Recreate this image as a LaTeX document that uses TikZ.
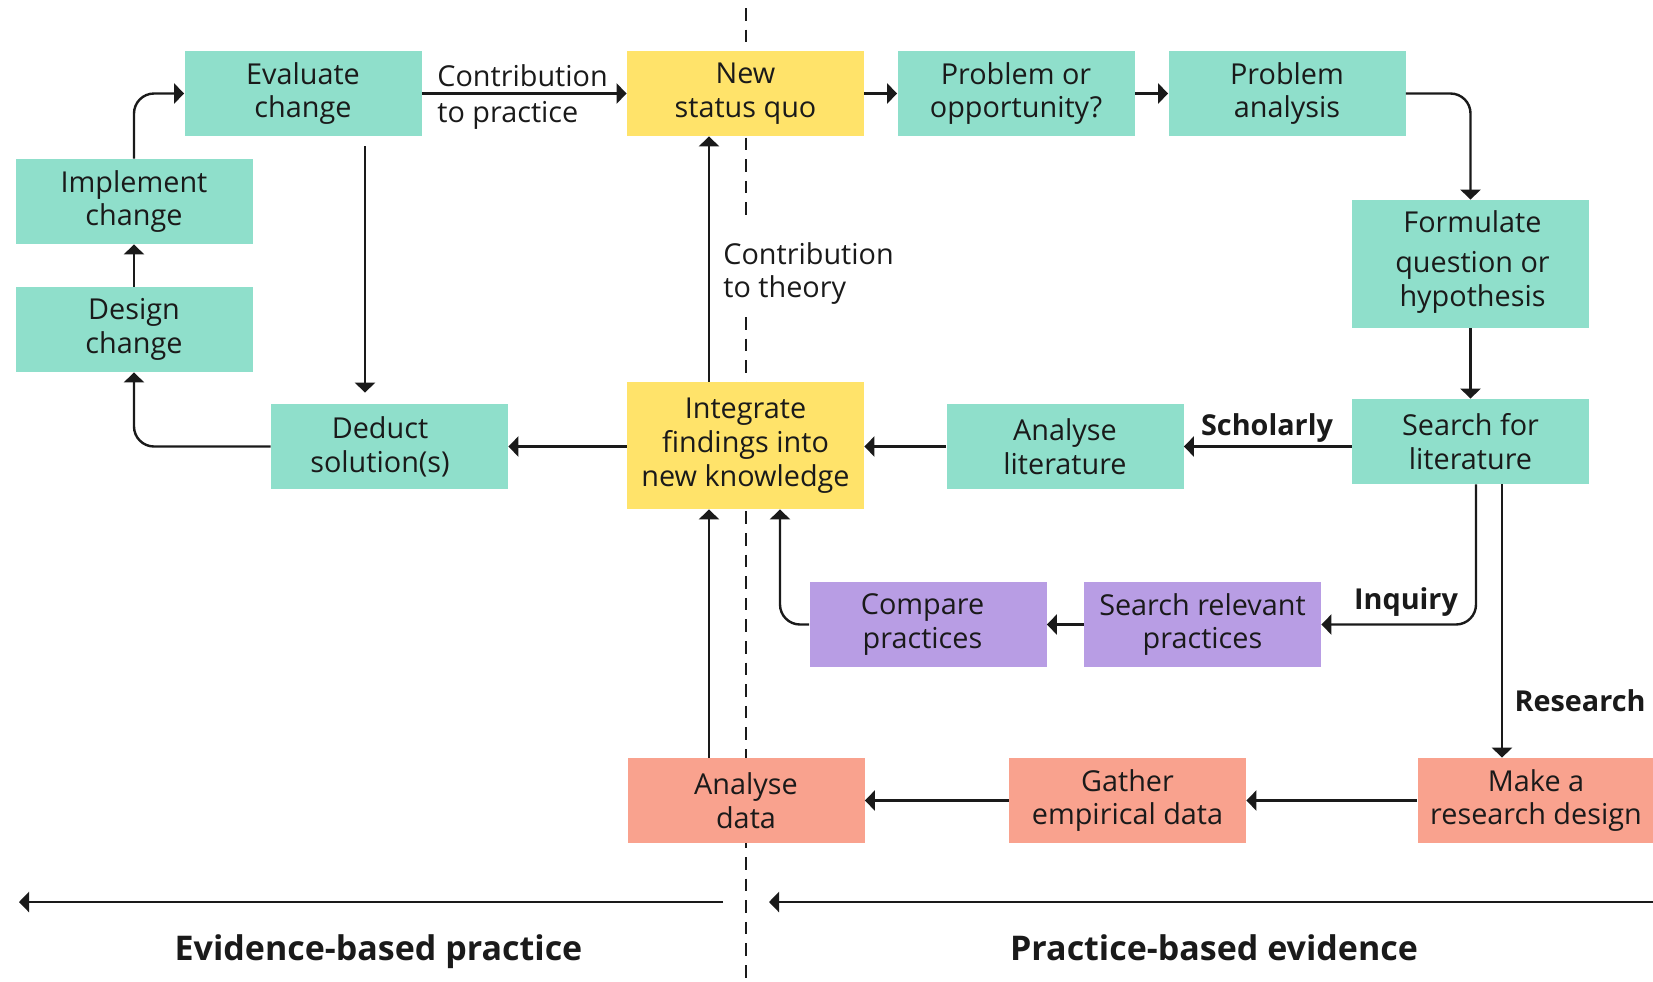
\documentclass[tikz,border=0pt]{standalone}
\usepackage{fontspec}
\setmainfont{Open Sans}
\usetikzlibrary{arrows.meta,calc}
\definecolor{cteal}{RGB}{143,223,203}
\definecolor{cyel}{RGB}{255,227,106}
\definecolor{cpur}{RGB}{184,157,228}
\definecolor{csal}{RGB}{249,162,142}
\definecolor{txt}{RGB}{26,26,26}
\newcommand\boxfont{\fontsize{14.4pt}{16.9pt}\selectfont}
\newcommand\titlefont{\fontsize{17pt}{20pt}\selectfont\bfseries}
\tikzset{
  box/.style={fill=#1, minimum width=118.5pt, minimum height=42.5pt, inner sep=0pt,
    align=center, font=\boxfont, text=txt},
  boxtxt/.style={inner sep=0pt, align=center, font=\boxfont, text=txt},
  lab/.style={inner sep=0pt, font=\boxfont, text=txt},
  blab/.style={inner sep=0pt, font=\boxfont\bfseries, text=txt},
  ttl/.style={inner sep=0pt, font=\titlefont, text=txt},
  arr/.style={draw=txt, line width=1.2pt, -{Triangle[length=5pt,width=10pt]}},
  dashline/.style={draw=txt, line width=0.85pt, dash pattern=on 6.3pt off 4.5pt},
}
\begin{document}
\begin{tikzpicture}[x=0.5pt,y=-0.5pt]
\useasboundingbox (0,0) rectangle (1653,981);
% dashed divider
\coordinate (d0) at (746,8);
\coordinate (d1) at (746,221);
\coordinate (d2) at (746,317);
\coordinate (d3) at (746,981);
\draw[dashline] (d0) -- (d1);
\draw[dashline] (d2) -- (d3);
% boxes
\node[box=cteal] (eval) at (303,93.5) {Evaluate\\change};
\node[box=cyel] (nsq) at (745.5,93.5) {New\\status quo};
\node[box=cteal] (prob) at (1016,93.5) {Problem or\\opportunity?};
\node[box=cteal] (pana) at (1287,93.5) {Problem\\analysis};
\node[box=cteal, minimum height=64pt] (form) at (1470.5,264) {};
\node[boxtxt] (formT) at ($(form)+(2,-2)$) {Formulate\\[3pt]question or\\hypothesis};
\node[box=cteal] (slit) at (1470.5,441.5) {Search for\\literature};
\node[box=cteal] (alit) at (1065,446.5) {Analyse\\literature};
\node[box=cyel, minimum height=63.5pt] (integ) at (745.5,445.5) {Integrate\\findings into\\new knowledge};
\node[box=cteal] (deduct) at (389.5,446.5) {};
\node[boxtxt] (deductT) at ($(deduct)+(-9.5,0)$) {Deduct\\solution(s)};
\node[box=cteal] (impl) at (134,201.5) {Implement\\change};
\node[box=cteal] (design) at (134,329.5) {Design\\change};
\node[box=cpur] (comp) at (928,624.5) {};
\node[boxtxt] (compT) at ($(comp)+(-5.5,0)$) {Compare\\practices};
\node[box=cpur] (srel) at (1202.5,624.5) {Search relevant\\practices};
\node[box=csal] (adata) at (746,800.5) {Analyse\\data};
\node[box=csal] (gather) at (1127.5,800.5) {Gather\\empirical data};
\node[box=csal] (mrd) at (1536,800.5) {Make a\\research design};
% labels
\node[lab, anchor=base west] (ctp1) at (437,86) {Contribution};
\node[lab, anchor=base west] (ctp2) at (437,122) {to practice};
\node[lab, anchor=base west] (ctt1) at (723,264) {Contribution};
\node[lab, anchor=base west] (ctt2) at (723,297) {to theory};
\node[blab, anchor=base] (schol) at (1267,435) {Scholarly};
\node[blab, anchor=base] (inq) at (1406,609) {Inquiry};
\node[blab, anchor=base] (res) at (1580,711) {Research};
\node[ttl, anchor=base] (ebp) at (378.5,960) {Evidence-based practice};
\node[ttl, anchor=base] (pbe) at (1214,960) {Practice-based evidence};
% connectors
\draw[arr] (eval) -- (nsq);
\draw[arr] (nsq) -- (prob);
\draw[arr] (prob) -- (pana);
\draw[arr, rounded corners=10pt] (pana.east) -| (form.north);
\draw[arr] (form) -- (slit);
\draw[arr] (slit.west |- alit.east) -- (alit.east);
\draw[arr] (alit.west) -- (integ.east |- alit.west);
\draw[arr] (integ.west |- deduct.east) -- (deduct.east);
\draw[arr, rounded corners=10pt] (deduct.west) -| (design.south);
\draw[arr] (design) -- (impl);
\draw[arr, rounded corners=10pt] (impl.north) |- (eval.west);
\draw[arr] ($(eval.south)+(62,10)$) -- ($(deduct.north)+(-24.5,-11)$);
\draw[arr] ($(integ.north)+(-36.5,0)$) -- ($(nsq.south)+(-36.5,0)$);
\coordinate (ad) at ($(adata.north)+(-37,0)$);
\draw[arr] (ad) -- (ad |- integ.south);
\draw[arr, rounded corners=10pt] (comp.west) -| ($(integ.south)+(34.5,0)$);
\draw[arr, rounded corners=10pt] ($(slit.south)+(5.5,0)$) |- (srel.east);
\coordinate (rs) at ($(slit.south)+(31.5,0)$);
\draw[arr] (rs) -- (rs |- mrd.north);
\draw[arr] (srel) -- (comp);
\draw[arr] (mrd.west) -- (gather.east);
\draw[arr] (gather) -- (adata);
% bottom arrows
\coordinate (bl0) at (723,902);
\coordinate (bl1) at (19,902);
\coordinate (br0) at (1653,902);
\coordinate (br1) at (769,902);
\draw[arr] (bl0) -- (bl1);
\draw[arr] (br0) -- (br1);
\end{tikzpicture}
\end{document}
